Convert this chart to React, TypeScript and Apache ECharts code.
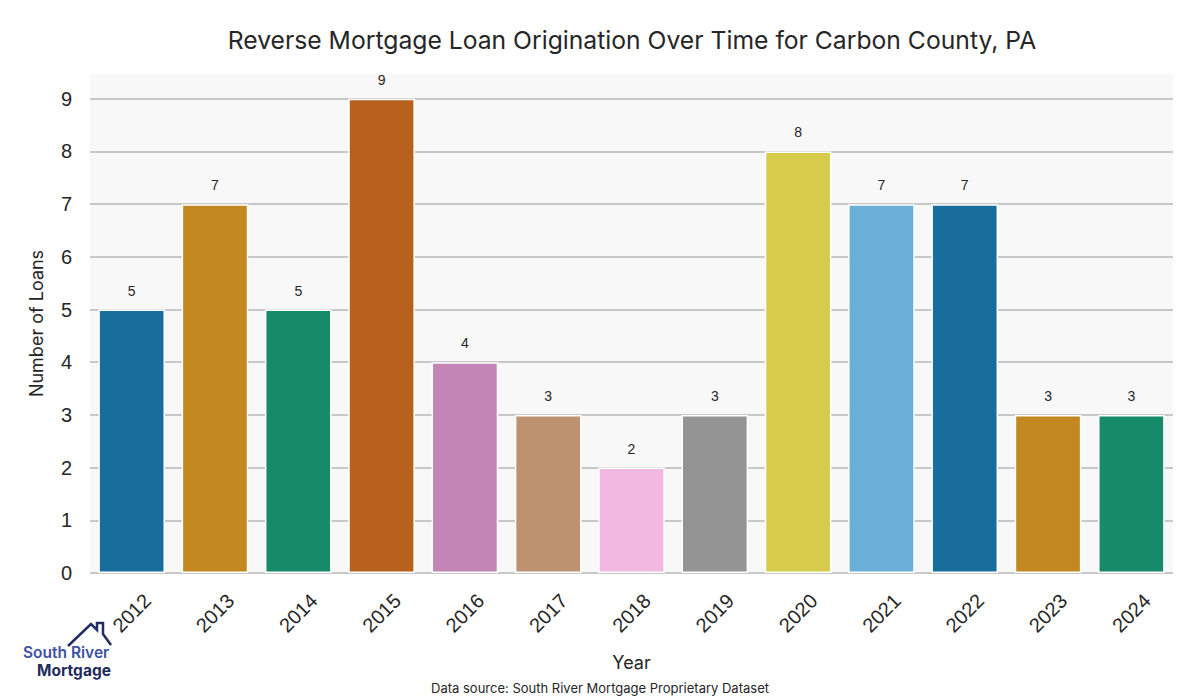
import React, { useEffect, useRef } from "react";
import * as echarts from "echarts";

const years = ["2012", "2013", "2014", "2015", "2016", "2017", "2018", "2019", "2020", "2021", "2022", "2023", "2024"];
const loans = [5, 7, 5, 9, 4, 3, 2, 3, 8, 7, 7, 3, 3];
const barColors = ["#176d9c", "#c38820", "#178a6a", "#b8611e", "#c384b6", "#bc9270", "#f1b8e0", "#949494", "#d6cb4a", "#69afd8", "#176d9c", "#c38820", "#178a6a"];

const titleText = "Reverse Mortgage Loan Origination Over Time for Carbon County, PA";
const xTitle = "Year";
const yTitle = "Number of Loans";
const sourceText = "Data source: South River Mortgage Proprietary Dataset";

const UI_FONT = "Inter, 'Noto Sans', sans-serif";
const NUM_FONT = "'Liberation Sans', Arial, sans-serif";

export default function App() {
  const ref = useRef<HTMLDivElement>(null);
  useEffect(() => {
    if (!ref.current) return;
    const chart = echarts.init(ref.current, undefined, { renderer: "svg" });
    chart.setOption({
      animation: false,
      backgroundColor: "#ffffff",
      title: {
        text: titleText,
        left: 627,
        textAlign: "center",
        top: 22,
        textStyle: { fontFamily: UI_FONT, fontSize: 24.7, fontWeight: "normal", color: "#262626" },
      },
      grid: {
        left: 90,
        right: 27,
        top: 74,
        bottom: 127,
        show: true,
        backgroundColor: "#f8f8f8",
        borderWidth: 0,
      },
      xAxis: {
        type: "category",
        data: years,
        name: xTitle,
        nameLocation: "middle",
        nameGap: 80,
        nameTextStyle: { fontFamily: UI_FONT, fontSize: 18, color: "#262626" },
        axisLine: { show: false },
        axisTick: { show: false },
        axisLabel: {
          rotate: 45,
          align: "center",
          verticalAlign: "middle",
          margin: 40,
          fontFamily: NUM_FONT,
          fontSize: 20,
          color: "#262626",
          interval: 0,
        },
      },
      yAxis: {
        type: "value",
        min: 0,
        max: 9.47,
        interval: 1,
        name: yTitle,
        nameLocation: "middle",
        nameGap: 45,
        nameTextStyle: { fontFamily: UI_FONT, fontSize: 18, color: "#262626" },
        axisLine: { show: false },
        axisTick: { show: false },
        axisLabel: {
          margin: 18,
          fontFamily: NUM_FONT,
          fontSize: 20,
          color: "#262626",
          showMaxLabel: false,
          formatter: (v: number) => (Number.isInteger(v) ? String(v) : ""),
        },
        splitLine: { show: true, showMaxLine: false, lineStyle: { color: "#c8c8c8", width: 2 } },
      },
      series: [
        {
          type: "bar",
          barWidth: "80%",
          data: loans.map((v, i) => ({ value: v, itemStyle: { color: barColors[i] } })),
          itemStyle: { borderColor: "#ffffff", borderWidth: 1.5 },
          label: {
            show: true,
            position: "top",
            distance: 12,
            fontFamily: NUM_FONT,
            fontSize: 14,
            color: "#262626",
          },
        },
      ],
      graphic: [
        {
          type: "text",
          left: "center",
          top: 680,
          style: { text: sourceText, fontFamily: UI_FONT, fontSize: 13, lineHeight: 15, fill: "#262626" },
        },
        {
          type: "polyline",
          shape: { points: [[68, 646], [91, 624], [97, 630], [97, 623], [103, 623], [103, 634], [111, 645]] },
          style: { stroke: "#222d63", lineWidth: 2.5, fill: null },
        },
        {
          type: "text",
          x: 23,
          y: 645,
          style: { text: "South River", fontFamily: UI_FONT, fontSize: 15.5, lineHeight: 15, fontWeight: 600, fill: "#3d52a6" },
        },
        {
          type: "text",
          x: 37,
          y: 663,
          style: { text: "Mortgage", fontFamily: UI_FONT, fontSize: 15.5, lineHeight: 15, fontWeight: 700, fill: "#1f2a5e" },
        },
      ],
    });
    return () => chart.dispose();
  }, []);
  return <div ref={ref} style={{ position: "absolute", left: 0, top: 0, width: 1200, height: 700 }} />;
}
